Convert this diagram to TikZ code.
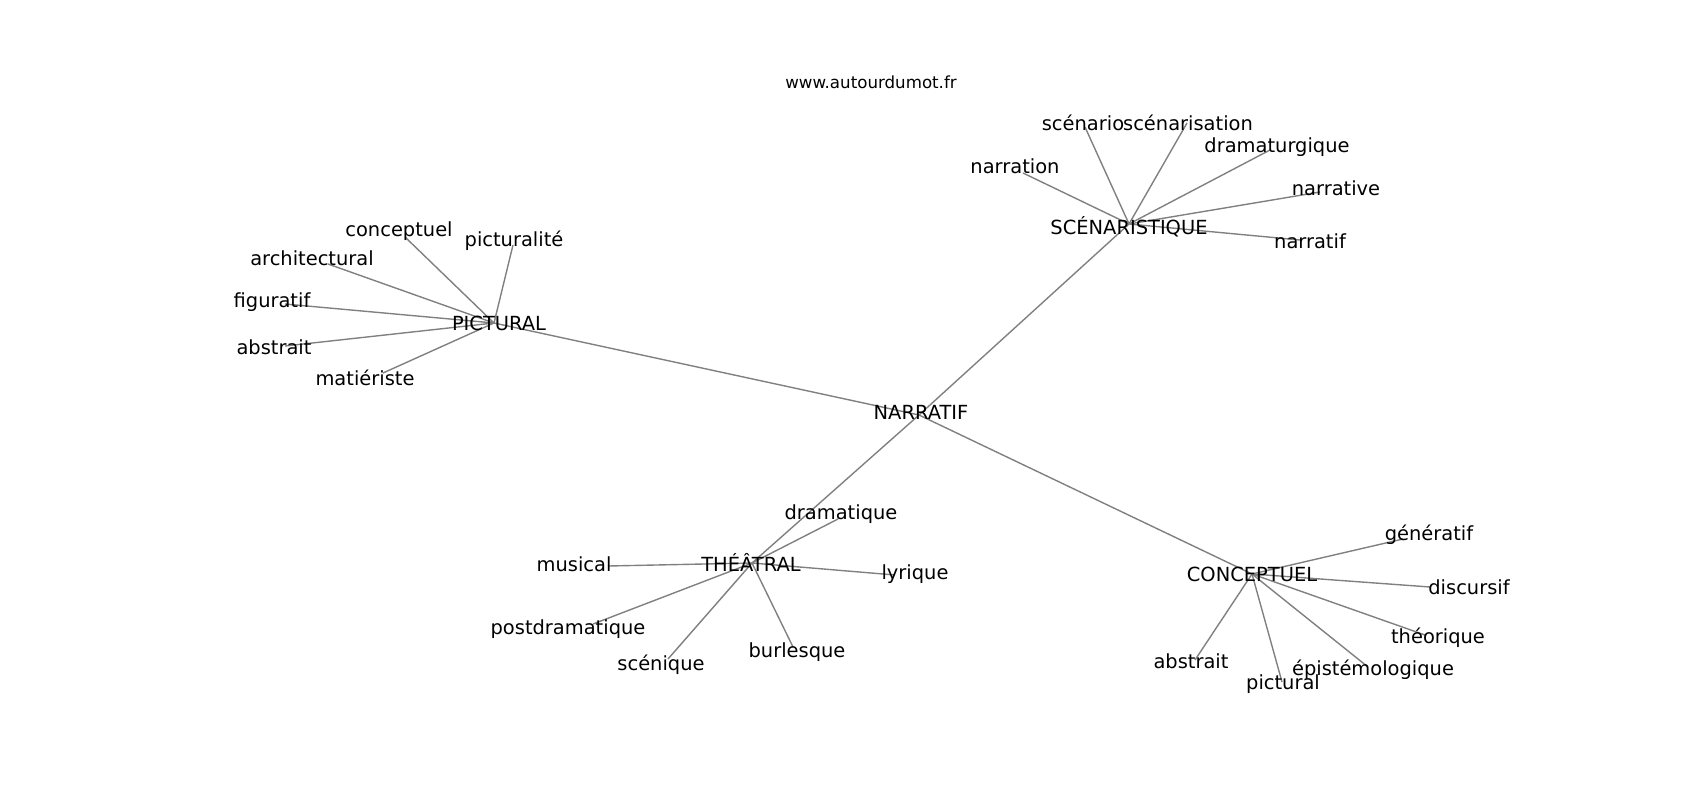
\documentclass[tikz,border=0pt]{standalone}
\usepackage{fontspec}
\setmainfont{DejaVu Sans}
\definecolor{edgegray}{RGB}{128,128,128}
\tikzset{
  lbl/.style={inner sep=0pt, text height=10.6pt, text depth=3.4pt, font=\fontsize{14}{16}\selectfont, text=black},
  urllbl/.style={inner sep=0pt, text height=9.1pt, text depth=2.9pt, font=\fontsize{12}{14}\selectfont, text=black},
  edge/.style={draw=edgegray, line width=1pt}
}
\begin{document}
\begin{tikzpicture}[x=0.72pt, y=-0.72pt]
\useasboundingbox[fill=white] (0,0) rectangle (1700,800);
% hub positions
\coordinate (hN) at (919,415);
\coordinate (hS) at (1129,224);
\coordinate (hP) at (494,323);
\coordinate (hT) at (752,563);
\coordinate (hC) at (1252,574);
% leaf edge ends
\coordinate (e-scenario) at (1085,127);
\coordinate (e-scenaris) at (1187,123);
\coordinate (e-dramaturg) at (1270,150);
\coordinate (e-narration) at (1023,173);
\coordinate (e-narrative) at (1320,192);
\coordinate (e-narratifS) at (1300,240);
\coordinate (e-conceptuelP) at (405,237);
\coordinate (e-picturalite) at (513,245);
\coordinate (e-architectural) at (328,264);
\coordinate (e-figuratif) at (285,304);
\coordinate (e-abstraitP) at (285,346);
\coordinate (e-materiste) at (383,373);
\coordinate (e-dramatique) at (838,519);
\coordinate (e-musical) at (608,566);
\coordinate (e-lyrique) at (895,575);
\coordinate (e-postdram) at (593,624);
\coordinate (e-scenique) at (668,659);
\coordinate (e-burlesque) at (793,647);
\coordinate (e-generatif) at (1403,539);
\coordinate (e-discursif) at (1430,587);
\coordinate (e-theorique) at (1425,635);
\coordinate (e-episte) at (1368,667);
\coordinate (e-picturalC) at (1282,682);
\coordinate (e-abstraitC) at (1195,660);
% edges
\draw[edge] (hN) -- (hP);
\draw[edge] (hN) -- (hS);
\draw[edge] (hN) -- (hT);
\draw[edge] (hN) -- (hC);
\foreach \e in {scenario,scenaris,dramaturg,narration,narrative,narratifS}
  \draw[edge] (hS) -- (e-\e);
\foreach \e in {conceptuelP,picturalite,architectural,figuratif,abstraitP,materiste}
  \draw[edge] (hP) -- (e-\e);
\foreach \e in {dramatique,musical,lyrique,postdram,scenique,burlesque}
  \draw[edge] (hT) -- (e-\e);
\foreach \e in {generatif,discursif,theorique,episte,picturalC,abstraitC}
  \draw[edge] (hC) -- (e-\e);
% labels
\node[urllbl] (url) at (871,84) {www.autourdumot.fr};
\node[lbl] (NARRATIF) at (921,414) {NARRATIF};
\node[lbl] (SCEN) at (1129,229) {SCÉNARISTIQUE};
\node[lbl] (PICT) at (499,325) {PICTURAL};
\node[lbl] (THEA) at (751,566) {THÉÂTRAL};
\node[lbl] (CONC) at (1252,576) {CONCEPTUEL};
\node[lbl] (scenario) at (1083,125) {scénario};
\node[lbl] (scenaris) at (1188,125) {scénarisation};
\node[lbl] (dramaturg) at (1277,147) {dramaturgique};
\node[lbl] (narration) at (1015,168) {narration};
\node[lbl] (narrative) at (1336,190) {narrative};
\node[lbl] (narratifS) at (1310,243) {narratif};
\node[lbl] (conceptuelP) at (399,231) {conceptuel};
\node[lbl] (picturalite) at (514,241) {picturalité};
\node[lbl] (architectural) at (312,260) {architectural};
\node[lbl] (figuratif) at (272,302) {figuratif};
\node[lbl] (abstraitP) at (274,349) {abstrait};
\node[lbl] (materiste) at (365,380) {matiériste};
\node[lbl] (dramatique) at (841,514) {dramatique};
\node[lbl] (musical) at (574,566) {musical};
\node[lbl] (lyrique) at (915,574) {lyrique};
\node[lbl] (postdram) at (568,629) {postdramatique};
\node[lbl] (scenique) at (661,665) {scénique};
\node[lbl] (burlesque) at (797,652) {burlesque};
\node[lbl] (generatif) at (1429,535) {génératif};
\node[lbl] (discursif) at (1469,589) {discursif};
\node[lbl] (theorique) at (1438,638) {théorique};
\node[lbl] (abstraitC) at (1191,663) {abstrait};
\node[lbl] (picturalC) at (1283,684) {pictural};
\node[lbl] (episte) at (1373,670) {épistémologique};
\end{tikzpicture}
\end{document}
